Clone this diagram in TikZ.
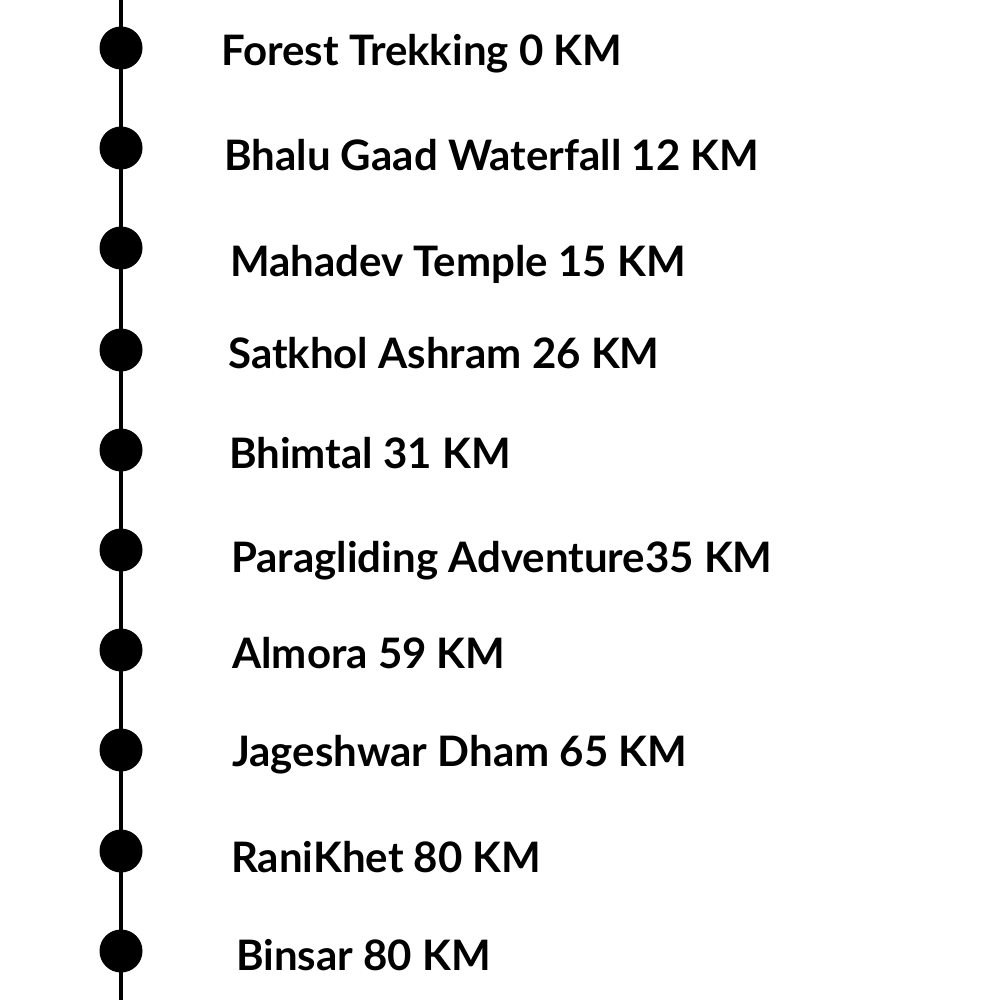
\documentclass[tikz,border=0pt]{standalone}
\usepackage{fontspec}
\setmainfont{Lato}
\usepackage{tikz}

\begin{document}
\begin{tikzpicture}[x=1pt,y=-1pt,
    dot/.style={circle, fill=black, minimum size=43pt, inner sep=0pt},
    stoplabel/.style={anchor=base west, inner sep=0pt, font=\fontsize{42}{42}\selectfont\bfseries}]
    \useasboundingbox[fill=white] (0,0) rectangle (1000,1000);
    % Timeline
    \coordinate (top) at (121,0);
    \coordinate (bottom) at (121,1000);
    \draw[line width=3.5pt] (top) -- (bottom);

    % Stops
    \foreach \i/\y/\x/\b/\txt in {1/48/221/66/Forest Trekking 0 KM,
        2/148/224/171/Bhalu Gaad Waterfall 12 KM,
        3/248/230/276/Mahadev Temple 15 KM,
        4/350/228/368/Satkhol Ashram 26 KM,
        5/450/229/468/Bhimtal 31 KM,
        6/550/231/572/Paragliding Adventure35 KM,
        7/650/232/668/Almora 59 KM,
        8/750/232/766/Jageshwar Dham 65 KM,
        9/851/231/872/RaniKhet 80 KM,
        10/951/236/970/Binsar 80 KM} {
        \node[dot] (c\i) at (121,\y) {};
        \node[stoplabel] (l\i) at (\x,\b) {\txt};
    }
\end{tikzpicture}
\end{document}
